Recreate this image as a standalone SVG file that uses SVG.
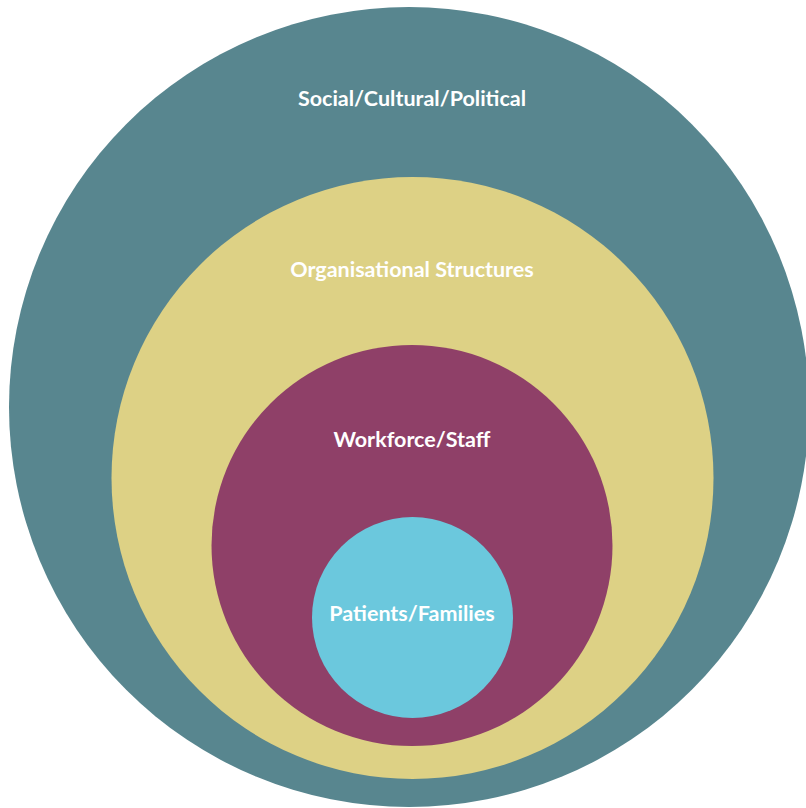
<svg xmlns="http://www.w3.org/2000/svg" width="806" height="808" viewBox="0 0 806 808">
<style>
text{font-family:Lato,"Open Sans","Liberation Sans",sans-serif;font-weight:700;font-size:21.5px;fill:#ffffff;text-anchor:middle}
</style>
<rect width="806" height="808" fill="#ffffff"/>
<g id="social"><circle cx="409" cy="407" r="400" fill="#58868F"/><text x="412" y="106">Social/Cultural/Political</text></g>
<g id="organisational"><circle cx="412.5" cy="478" r="301" fill="#DDD185"/><text x="412" y="277">Organisational Structures</text></g>
<g id="workforce"><circle cx="412" cy="545.5" r="200.5" fill="#8F4068"/><text x="412" y="447">Workforce/Staff</text></g>
<g id="patients"><circle cx="412.5" cy="617.5" r="100.5" fill="#6BC8DD"/><text x="412" y="621">Patients/Families</text></g>
<g id="connectors"/>
</svg>
